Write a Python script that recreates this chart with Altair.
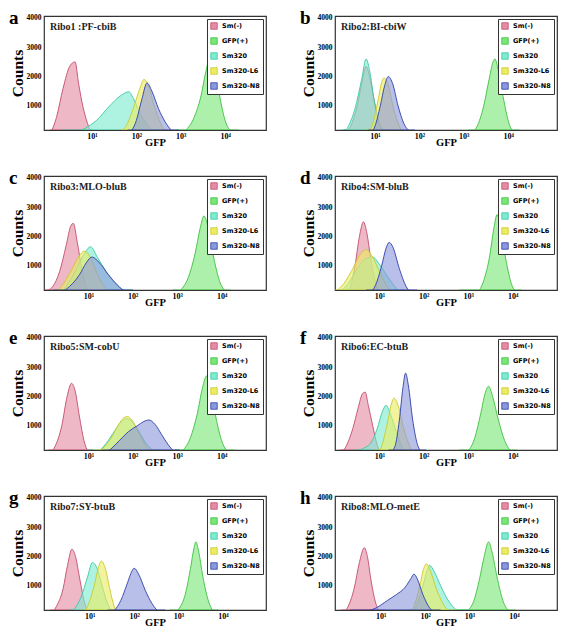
import altair as alt
import pandas as pd

SERIF = "Liberation Serif"
SERIES = ["Sm(-)", "GFP(+)", "Sm320", "Sm320-L6", "Sm320-N8"]
FILLS = ["#e58ca4", "#79e679", "#7debd0", "#ecec62", "#8c98dc"]
STROKES = ["#c24d6c", "#3fbf3f", "#3cc9a6", "#c9c92c", "#2f3fa8"]
LETTERS = ["a", "b", "c", "d", "e", "f", "g", "h"]
TITLES = ["Ribo1 :PF-cbiB", "Ribo2:BI-cbiW", "Ribo3:MLO-bluB", "Ribo4:SM-bluB",
          "Ribo5:SM-cobU", "Ribo6:EC-btuB", "Ribo7:SY-btuB", "Ribo8:MLO-metE"]
X_TICKS = [1, 2, 3, 4]
TICK_TEXT = ["10¹", "10²", "10³", "10⁴"]
Y_TICKS = [1000, 2000, 3000, 4000]
# left end of each panel's log10 GFP axis, as cropped in the figure
X_START = [-0.08, 0.1, 0.0, 0.0, 0.0, 0.0, -0.03, -0.03]

# (log10 GFP, counts)
A_SM = [(0.05, 0), (0.2, 600), (0.35, 1600), (0.5, 2350), (0.62, 2500), (0.7, 1750), (0.8, 950), (0.9, 400), (1.0, 0)]
A_GFP = [(2.9, 0), (3.1, 150), (3.3, 600), (3.45, 1300), (3.57, 2200), (3.67, 2750), (3.77, 2300), (3.88, 1300), (4.0, 500), (4.15, 100), (4.3, 0)]
A_S320 = [(0.3, 0), (0.8, 200), (1.1, 500), (1.4, 1000), (1.65, 1350), (1.83, 1480), (1.95, 1200), (2.1, 700), (2.3, 250), (2.5, 0)]
A_L6 = [(1.6, 0), (1.8, 400), (1.95, 1000), (2.08, 1600), (2.17, 1900), (2.27, 1700), (2.4, 1000), (2.55, 400), (2.7, 0)]
A_N8 = [(1.8, 0), (2.0, 500), (2.12, 1200), (2.24, 1780), (2.35, 1500), (2.5, 900), (2.65, 450), (2.8, 150), (2.95, 0)]

B_SM = [(0.3, 0), (0.45, 300), (0.6, 1000), (0.72, 1900), (0.8, 2350), (0.88, 2000), (0.98, 1200), (1.08, 500), (1.2, 100), (1.3, 0)]
B_GFP = [(3.1, 0), (3.3, 300), (3.45, 1000), (3.57, 1900), (3.66, 2500), (3.7, 2600), (3.78, 2200), (3.9, 1200), (4.0, 500), (4.12, 100), (4.25, 0)]
B_S320 = [(0.25, 0), (0.4, 300), (0.55, 900), (0.7, 1900), (0.8, 2600), (0.88, 2200), (0.98, 1200), (1.08, 500), (1.2, 100), (1.3, 0)]
B_L6 = [(0.8, 0), (0.95, 400), (1.07, 1200), (1.15, 1800), (1.2, 1950), (1.3, 1700), (1.42, 900), (1.55, 300), (1.7, 0)]
B_N8 = [(0.85, 0), (1.0, 300), (1.12, 1000), (1.22, 1700), (1.3, 2000), (1.4, 1750), (1.52, 1000), (1.65, 400), (1.8, 100), (1.9, 0)]

C_SM = [(0.0, 100), (0.2, 300), (0.35, 800), (0.5, 1700), (0.6, 2350), (0.66, 2450), (0.75, 1800), (0.85, 900), (0.95, 300), (1.05, 0)]
C_GFP = [(2.9, 0), (3.06, 150), (3.25, 600), (3.4, 1400), (3.52, 2300), (3.6, 2700), (3.7, 2300), (3.82, 1300), (3.95, 500), (4.1, 100), (4.2, 0)]
C_S320 = [(0.3, 0), (0.5, 300), (0.7, 800), (0.9, 1400), (1.05, 1650), (1.2, 1300), (1.4, 800), (1.6, 400), (1.8, 150), (2.0, 0)]
C_L6 = [(0.2, 0), (0.4, 300), (0.6, 800), (0.8, 1350), (0.9, 1500), (1.0, 1400), (1.15, 900), (1.3, 400), (1.5, 100), (1.7, 0)]
C_N8 = [(0.2, 0), (0.5, 200), (0.8, 700), (0.95, 1100), (1.08, 1300), (1.25, 1100), (1.45, 700), (1.65, 350), (1.85, 100), (2.0, 0)]

D_SM = [(0.2, 0), (0.35, 300), (0.45, 1000), (0.55, 2000), (0.64, 2500), (0.72, 2100), (0.8, 1300), (0.9, 500), (1.0, 100), (1.1, 0)]
D_GFP = [(2.8, 0), (3.2, 100), (3.35, 500), (3.48, 1300), (3.58, 2300), (3.65, 2750), (3.73, 2300), (3.85, 1200), (3.97, 400), (4.1, 80), (4.2, 0)]
D_S320 = [(0.1, 100), (0.3, 400), (0.5, 900), (0.7, 1250), (0.85, 1300), (1.0, 1050), (1.2, 600), (1.4, 200), (1.55, 0)]
D_L6 = [(0.0, 100), (0.2, 400), (0.4, 900), (0.55, 1350), (0.7, 1550), (0.85, 1300), (1.0, 800), (1.15, 350), (1.3, 0)]
D_N8 = [(0.7, 0), (0.9, 300), (1.05, 1000), (1.15, 1600), (1.22, 1800), (1.3, 1650), (1.45, 900), (1.6, 300), (1.75, 50), (1.85, 0)]

E_SM = [(0.1, 0), (0.25, 300), (0.4, 1000), (0.52, 2000), (0.62, 2450), (0.7, 2200), (0.8, 1300), (0.9, 500), (1.0, 100), (1.1, 0)]
E_GFP = [(2.95, 0), (3.12, 150), (3.3, 600), (3.45, 1400), (3.57, 2300), (3.66, 2700), (3.75, 2300), (3.87, 1300), (4.0, 500), (4.15, 100), (4.3, 0)]
E_S320 = [(1.0, 0), (1.2, 100), (1.4, 400), (1.6, 850), (1.75, 1150), (1.85, 1250), (1.95, 1200), (2.1, 900), (2.3, 400), (2.5, 100), (2.6, 0)]
E_L6 = [(1.1, 0), (1.3, 200), (1.5, 550), (1.68, 1050), (1.8, 1280), (1.88, 1320), (1.98, 1200), (2.12, 800), (2.3, 300), (2.45, 50), (2.55, 0)]
E_N8 = [(1.3, 0), (1.5, 200), (1.7, 500), (1.9, 800), (2.1, 1000), (2.25, 1150), (2.36, 1200), (2.5, 1050), (2.65, 700), (2.8, 350), (2.95, 100), (3.05, 0)]

F_SM = [(0.1, 0), (0.25, 300), (0.4, 900), (0.52, 1600), (0.62, 2100), (0.68, 2150), (0.75, 1700), (0.85, 1000), (0.95, 350), (1.05, 50), (1.15, 0)]
F_GFP = [(2.8, 0), (3.0, 150), (3.15, 600), (3.28, 1400), (3.38, 2100), (3.46, 2350), (3.55, 2000), (3.68, 1200), (3.82, 500), (3.95, 150), (4.1, 0)]
F_S320 = [(0.4, 0), (0.6, 200), (0.8, 400), (0.95, 900), (1.07, 1500), (1.15, 1700), (1.25, 1400), (1.38, 800), (1.5, 300), (1.65, 50), (1.75, 0)]
F_L6 = [(0.9, 0), (1.05, 300), (1.18, 1100), (1.28, 1800), (1.33, 1950), (1.42, 1700), (1.55, 900), (1.7, 250), (1.85, 0)]
F_N8 = [(1.2, 0), (1.35, 300), (1.45, 1200), (1.53, 2300), (1.59, 2800), (1.65, 2400), (1.75, 1200), (1.85, 400), (1.95, 100), (2.05, 0)]

G_SM = [(0.1, 0), (0.25, 300), (0.4, 900), (0.5, 1700), (0.6, 2250), (0.68, 2000), (0.78, 1200), (0.88, 450), (0.98, 100), (1.08, 0)]
G_GFP = [(2.8, 0), (3.0, 200), (3.15, 700), (3.27, 1600), (3.35, 2300), (3.39, 2500), (3.45, 2200), (3.55, 1300), (3.67, 500), (3.8, 100), (3.9, 0)]
G_S320 = [(0.5, 0), (0.65, 200), (0.8, 600), (0.95, 1300), (1.06, 1800), (1.15, 1650), (1.28, 1000), (1.4, 400), (1.55, 80), (1.65, 0)]
G_L6 = [(0.8, 0), (0.95, 300), (1.1, 1000), (1.2, 1650), (1.26, 1850), (1.35, 1600), (1.45, 900), (1.55, 300), (1.65, 0)]
G_N8 = [(1.4, 0), (1.55, 150), (1.7, 500), (1.85, 1100), (1.95, 1500), (2.0, 1600), (2.1, 1400), (2.25, 850), (2.4, 400), (2.55, 120), (2.7, 0)]

H_SM = [(0.1, 0), (0.25, 250), (0.4, 900), (0.52, 1800), (0.63, 2300), (0.7, 2000), (0.78, 1200), (0.88, 450), (0.98, 100), (1.1, 0)]
H_GFP = [(2.7, 0), (2.95, 150), (3.1, 500), (3.22, 1200), (3.33, 2000), (3.43, 2500), (3.5, 2200), (3.62, 1300), (3.75, 500), (3.9, 120), (4.05, 0)]
H_S320 = [(1.6, 0), (1.8, 300), (1.95, 1000), (2.05, 1550), (2.1, 1700), (2.2, 1500), (2.35, 1000), (2.5, 550), (2.65, 250), (2.85, 50), (3.0, 0)]
H_L6 = [(1.6, 0), (1.75, 300), (1.88, 1000), (1.97, 1600), (2.03, 1750), (2.12, 1500), (2.25, 900), (2.4, 400), (2.55, 100), (2.7, 0)]
H_N8 = [(0.3, 0), (0.6, 100), (0.9, 250), (1.15, 500), (1.35, 700), (1.55, 950), (1.68, 1250), (1.75, 1400), (1.82, 1250), (1.95, 700), (2.1, 250), (2.25, 50), (2.35, 0)]

CURVES = [
    [A_SM, A_GFP, A_S320, A_L6, A_N8],
    [B_SM, B_GFP, B_S320, B_L6, B_N8],
    [C_SM, C_GFP, C_S320, C_L6, C_N8],
    [D_SM, D_GFP, D_S320, D_L6, D_N8],
    [E_SM, E_GFP, E_S320, E_L6, E_N8],
    [F_SM, F_GFP, F_S320, F_L6, F_N8],
    [G_SM, G_GFP, G_S320, G_L6, G_N8],
    [H_SM, H_GFP, H_S320, H_L6, H_N8],
]

W, H = 222, 114

label_expr = " : ".join(
    f"datum.value == {v} ? '{t}'" for v, t in zip(X_TICKS[:-1], TICK_TEXT[:-1])
) + f" : '{TICK_TEXT[-1]}'"


def panel(i):
    rows = []
    for s, pts in zip(SERIES, CURVES[i]):
        for x, c in pts:
            rows.append({"series": s, "x": x, "c": c})
    df = pd.DataFrame(rows)
    area = alt.Chart(df).mark_area(
        interpolate="monotone", fillOpacity=0.62, strokeWidth=0.9, clip=True,
        orient="vertical"
    ).encode(
        x=alt.X("x:Q", scale=alt.Scale(domain=[X_START[i], X_START[i] + 5], nice=False),
                axis=alt.Axis(values=X_TICKS, labelExpr=label_expr, title="GFP",
                              grid=False, ticks=False, domain=False,
                              labelFont=SERIF, labelFontSize=8, labelFontWeight="bold",
                              labelPadding=2, labelColor="black",
                              titleFont=SERIF, titleFontSize=10.5, titleFontWeight="bold",
                              titlePadding=-3, titleColor="black")),
        y=alt.Y("c:Q", stack=None,
                scale=alt.Scale(domain=[175, 4066], nice=False, zero=False),
                axis=alt.Axis(values=Y_TICKS, format="d", title="Counts", grid=False,
                              ticks=False, domain=False, labelFont=SERIF,
                              labelFontSize=7.5, labelFontWeight="bold", labelPadding=3,
                              labelColor="black",
                              titleFont=SERIF, titleFontSize=15.5, titleFontWeight="bold",
                              titlePadding=1, titleColor="black")),
        color=alt.Color("series:N", scale=alt.Scale(domain=SERIES, range=FILLS),
                        legend=alt.Legend(orient="top-right", offset=3, title=None,
                                          fillColor="white", strokeColor="#333",
                                          padding=3, symbolType="square", symbolSize=42,
                                          labelFontSize=6.5, labelFont="DejaVu Sans",
                                          labelFontWeight="bold", labelColor="black",
                                          rowPadding=5, labelOffset=4, labelLimit=60,
                                          symbolStrokeWidth=0.8)),
        stroke=alt.Stroke("series:N", scale=alt.Scale(domain=SERIES, range=STROKES),
                          legend=None),
    )
    ttl = alt.Chart(pd.DataFrame({"t": [TITLES[i]]})).mark_text(
        align="left", baseline="middle", font=SERIF, fontSize=10, fontWeight="bold",
        color="#222"
    ).encode(text="t:N", x=alt.value(6), y=alt.value(11))
    let = alt.Chart(pd.DataFrame({"t": [LETTERS[i]]})).mark_text(
        align="left", baseline="alphabetic", font=SERIF, fontSize=19, fontWeight="bold",
        color="black"
    ).encode(text="t:N", x=alt.value(-35), y=alt.value(8))
    return alt.layer(area, ttl, let).properties(width=W, height=H)


rows = []
for r in range(4):
    rows.append(
        alt.hconcat(panel(2 * r), panel(2 * r + 1), spacing=32)
        .resolve_scale(color="independent", stroke="independent")
        .resolve_legend(color="independent", stroke="independent")
    )

chart = alt.vconcat(*rows, spacing=19).resolve_scale(
    color="independent", stroke="independent"
).resolve_legend(
    color="independent", stroke="independent"
).configure_view(
    stroke="#333", strokeWidth=1.2
).properties(padding=0, background="white")

chart.save("out.html", embed_options={"renderer": "svg", "actions": False})
